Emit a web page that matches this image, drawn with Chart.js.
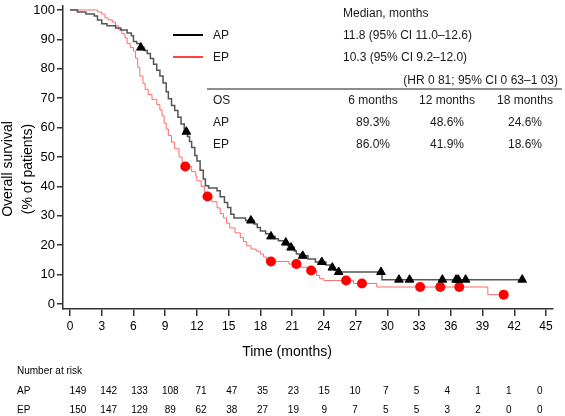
<!DOCTYPE html>
<html lang="en">
<head>
<meta charset="UTF-8">
<title>Overall survival: AP vs EP</title>
<script src="https://cdn.jsdelivr.net/npm/chart.js"></script>
<style>
  body { margin: 0; background: #fff; }
  #wrap { width: 565px; height: 416px; }
</style>
</head>
<body>
<div id="wrap"><canvas id="km" width="565" height="416"></canvas></div>
<script>
// Kaplan-Meier steps: time (months) and % alive from that time on
const apTime = [0, 0.7, 1.5, 2.3, 2.6, 3.0, 3.5, 4.3, 4.8, 5.4, 5.8, 6.0, 6.3, 6.6, 7.0, 7.3, 7.6, 7.9, 8.2, 8.5,
  8.8, 9.1, 9.3, 9.6, 9.9, 10.2, 10.5, 10.8, 11.1, 11.3, 11.5, 11.8, 12.0, 12.3, 12.6, 12.8, 13.1, 13.9, 14.2, 14.6,
  14.9, 15.2, 15.5, 16.6, 17.4, 17.7, 18.0, 18.5, 18.9, 19.4, 19.7, 20.2, 20.6, 20.9, 21.2, 21.4, 21.7, 22.5, 23.2, 24.2,
  24.6, 25.0, 25.4, 29.5, 42.8];
const apSurv = [100, 99.3, 98.6, 97.9, 96.6, 95.3, 94.6, 93.9, 93.2, 92.2, 91.2, 89.3, 88.6, 87.2, 86.2, 85.2, 83.5, 81.5, 79.5, 77.5,
  75.2, 72.2, 69.8, 67.5, 65.8, 63.5, 61.2, 58.6, 57.0, 55.3, 53.2, 50.5, 48.6, 45.5, 42.5, 40.2, 39.5, 38.5, 36.5, 34.5,
  32.8, 30.5, 29.3, 28.4, 27.2, 26.0, 24.8, 23.9, 23.0, 22.2, 21.5, 20.9, 19.8, 19.2, 18.0, 17.0, 16.4, 15.3, 14.3, 13.3,
  12.4, 11.5, 10.9, 8.3, 8.3];

const epTime = [0, 2.6, 3.0, 3.3, 3.6, 4.0, 4.3, 4.6, 4.9, 5.2, 5.4, 5.7, 6.0, 6.2, 6.4, 6.6, 6.9, 7.1, 7.4, 7.75,
  8.2, 8.5, 8.7, 8.9, 9.1, 9.3, 9.6, 9.9, 10.3, 10.6, 10.8, 11.5, 11.9, 12.0, 12.4, 12.7, 13.0, 13.4, 13.9, 14.2,
  14.5, 14.8, 15.1, 15.6, 16.1, 16.4, 16.7, 17.1, 17.6, 18.0, 18.3, 18.6, 18.8, 20.7, 21.8, 22.6, 23.3, 23.6, 24.0, 26.8,
  29.0, 39.5, 41.0];
const epSurv = [100, 99.3, 98.6, 97.3, 96.6, 95.9, 94.6, 93.2, 91.9, 90.5, 88.6, 87.2, 86.0, 83.6, 80.5, 77.5, 75.0, 73.0, 71.2, 69.6,
  67.8, 66.0, 64.0, 61.5, 59.5, 57.3, 55.0, 52.8, 50.0, 48.2, 46.8, 45.0, 43.5, 41.9, 40.0, 38.0, 36.6, 34.8, 32.7, 30.8,
  29.3, 27.5, 25.9, 24.2, 22.6, 21.2, 19.8, 18.7, 18.0, 17.0, 16.0, 14.9, 14.5, 13.6, 12.5, 11.4, 9.7, 8.6, 8.0, 7.0,
  5.8, 3.2, 3.2];

// censored observations (months)
const apCensor = [6.7, 11.0, 17.1, 19.0, 20.4, 20.9, 22.0, 23.8, 24.8, 25.4, 29.4, 31.1, 32.1, 35.2, 36.5, 36.7, 37.4, 42.75];
const epCensor = [10.9, 13.0, 19.0, 21.4, 22.8, 26.1, 27.6, 33.1, 35.0, 36.8, 41.0];

const xTicks = [0, 3, 6, 9, 12, 15, 18, 21, 24, 27, 30, 33, 36, 39, 42, 45];
const yTicks = [0, 10, 20, 30, 40, 50, 60, 70, 80, 90, 100];

const riskAP = [149, 142, 133, 108, 71, 47, 35, 23, 15, 10, 7, 5, 4, 1, 1, 0];
const riskEP = [150, 147, 129, 89, 62, 38, 27, 19, 9, 7, 5, 5, 3, 2, 0, 0];

const medianAP = '11.8 (95% CI 11.0\u201312.6)';
const medianEP = '10.3 (95% CI 9.2\u201312.0)';
const hrText = '(HR 0 81; 95% CI 0 63\u20131 03)';
const landmarks = ['6 months', '12 months', '18 months'];
const osAP = ['89.3%', '48.6%', '24.6%'];
const osEP = ['86.0%', '41.9%', '18.6%'];

const FONT = "'Liberation Sans', Arial, sans-serif";

function survAt(times, surv, t) {
  let v = surv[0];
  for (let i = 0; i < times.length; i++) {
    if (times[i] <= t) v = surv[i];
  }
  return v;
}

const pts = (ts, vs) => ts.map((t, i) => ({ x: t, y: vs[i] }));

// text bits: legend, table, axis titles, numbers at risk
const annotations = {
  id: 'annotations',
  afterDraw(chart) {
    const ctx = chart.ctx;
    const xs = chart.scales.x;
    ctx.save();
    ctx.fillStyle = '#1a1a1a';
    ctx.textBaseline = 'middle';

    // legend
    ctx.lineWidth = 2;
    ctx.strokeStyle = '#000';
    ctx.beginPath(); ctx.moveTo(173, 35); ctx.lineTo(203, 35); ctx.stroke();
    ctx.lineWidth = 1.5;
    ctx.strokeStyle = '#ff0000';
    ctx.beginPath(); ctx.moveTo(173, 57); ctx.lineTo(203, 57); ctx.stroke();

    ctx.font = '12px ' + FONT;
    ctx.textAlign = 'left';
    ctx.fillText('AP', 213, 36);
    ctx.fillText('EP', 213, 58);
    ctx.fillText('Median, months', 343, 14);
    ctx.fillText(medianAP, 343, 36);
    ctx.fillText(medianEP, 343, 58);
    ctx.textAlign = 'right';
    ctx.fillText(hrText, 558, 81);

    ctx.lineWidth = 1.2;
    ctx.strokeStyle = '#1a1a1a';
    ctx.beginPath(); ctx.moveTo(207, 89); ctx.lineTo(562, 89); ctx.stroke();

    ctx.textAlign = 'left';
    ctx.fillText('OS', 213, 101);
    ctx.fillText('AP', 213, 123);
    ctx.fillText('EP', 213, 145);
    const cols = [373, 447, 525];
    ctx.textAlign = 'center';
    cols.forEach((cx, i) => {
      ctx.fillText(landmarks[i], cx, 101);
      ctx.fillText(osAP[i], cx, 123);
      ctx.fillText(osEP[i], cx, 145);
    });

    // axis titles
    ctx.fillStyle = '#000';
    ctx.font = '14px ' + FONT;
    ctx.textAlign = 'center';
    ctx.fillText('Time (months)', 287, 352);
    ctx.save();
    ctx.translate(8, 169);
    ctx.rotate(-Math.PI / 2);
    ctx.fillText('Overall survival', 0, 0);
    ctx.restore();
    ctx.save();
    ctx.translate(28, 169);
    ctx.rotate(-Math.PI / 2);
    ctx.fillText('(% of patients)', 0, 0);
    ctx.restore();

    // number at risk
    ctx.font = '10px ' + FONT;
    ctx.textAlign = 'left';
    ctx.fillText('Number at risk', 17, 371);
    ctx.fillText('AP', 17, 391);
    ctx.fillText('EP', 17, 410);
    ctx.textAlign = 'center';
    riskAP.forEach((n, i) => {
      const cx = xs.getPixelForValue(0.75 + i * 2.91);
      ctx.fillText(String(n), cx, 391);
      ctx.fillText(String(riskEP[i]), cx, 410);
    });
    ctx.restore();
  }
};

new Chart(document.getElementById('km'), {
  type: 'line',
  data: {
    datasets: [
      {
        label: 'AP censored',
        data: apCensor.map(t => ({ x: t, y: survAt(apTime, apSurv, t) })),
        showLine: false,
        pointStyle: 'triangle',
        pointRadius: 5,
        pointBackgroundColor: '#000',
        pointBorderColor: '#000',
        pointBorderWidth: 1,
        order: 0
      },
      {
        label: 'EP censored',
        data: epCensor.map(t => ({ x: t, y: survAt(epTime, epSurv, t) })),
        showLine: false,
        pointStyle: 'circle',
        pointRadius: 5,
        pointBackgroundColor: '#ff0000',
        pointBorderColor: '#ff0000',
        pointBorderWidth: 0,
        order: 0
      },
      {
        label: 'AP',
        data: pts(apTime, apSurv),
        stepped: true,
        borderColor: '#555555',
        borderWidth: 1.5,
        pointRadius: 0,
        fill: false,
        order: 1
      },
      {
        label: 'EP',
        data: pts(epTime, epSurv),
        stepped: true,
        borderColor: '#ff6b6b',
        borderWidth: 1,
        pointRadius: 0,
        fill: false,
        order: 2
      }
    ]
  },
  options: {
    responsive: false,
    animation: false,
    layout: { padding: { top: 2, right: 12, left: 0, bottom: 0 } },
    plugins: {
      legend: { display: false },
      tooltip: { enabled: false }
    },
    scales: {
      x: {
        type: 'linear',
        min: -0.66,
        max: 45.66,
        afterBuildTicks: s => { s.ticks = xTicks.map(v => ({ value: v })); },
        afterFit: s => { s.height = 107; s.paddingLeft = 0; s.paddingRight = 0; },
        grid: { drawOnChartArea: false, drawTicks: true, tickLength: 7, color: '#333', lineWidth: 1.5 },
        border: { display: true, color: '#333', width: 1.5 },
        ticks: { color: '#000', padding: 3, maxRotation: 0, autoSkip: false, font: { size: 12, family: FONT } }
      },
      y: {
        min: -1.68,
        max: 101.34,
        afterBuildTicks: s => { s.ticks = yTicks.map(v => ({ value: v })); },
        afterFit: s => { s.width = 63; s.paddingTop = 0; s.paddingBottom = 0; },
        grid: { drawOnChartArea: false, drawTicks: true, tickLength: 6, color: '#333', lineWidth: 1.5 },
        border: { display: true, color: '#333', width: 1.5 },
        ticks: { color: '#000', padding: 2, autoSkip: false, font: { size: 13, family: FONT } }
      }
    }
  },
  plugins: [annotations]
});
</script>
</body>
</html>
